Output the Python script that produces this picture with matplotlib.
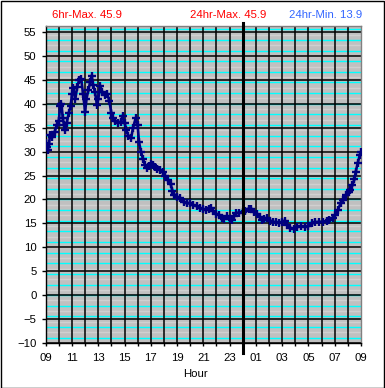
import matplotlib
matplotlib.use("Agg")
import matplotlib.pyplot as plt
from matplotlib.patches import Rectangle

# ---- data (hour of day, continuing past midnight as 24+h) ----
hours = [9.00, 9.08, 9.17, 9.25, 9.33, 9.50, 9.67, 9.83, 10.00, 10.10, 10.20, 10.30,
         10.40, 10.50, 10.60, 10.75, 10.90, 11.00, 11.10, 11.25, 11.40, 11.55, 11.70,
         11.85, 12.00, 12.10, 12.25, 12.40, 12.50, 12.60, 12.75, 12.90, 13.00, 13.15,
         13.30, 13.50, 13.70, 13.85, 14.00, 14.10, 14.25, 14.50, 14.70, 14.85, 15.00,
         15.15, 15.30, 15.50, 15.65, 15.85, 16.00, 16.10, 16.25, 16.40, 16.55, 16.70,
         16.85, 17.00, 17.15, 17.30, 17.50, 17.70, 17.90, 18.10, 18.30, 18.50, 18.65,
         18.80, 19.00, 19.20, 19.50, 19.75, 20.00, 20.25, 20.50, 20.75, 21.00, 21.20,
         21.40, 21.55, 21.75, 22.00, 22.20, 22.40, 22.60, 22.80, 23.00, 23.15, 23.35,
         23.50, 23.75, 24.00, 24.20, 24.45, 24.60, 24.85, 25.10, 25.30, 25.45, 25.65,
         25.85, 26.10, 26.30, 26.50, 26.75, 27.00, 27.20, 27.40, 27.60, 27.90, 28.10,
         28.40, 28.70, 29.00, 29.30, 29.50, 29.80, 30.10, 30.40, 30.60, 30.85, 31.05,
         31.25, 31.45, 31.65, 31.85, 32.05, 32.20, 32.35, 32.50, 32.60, 32.75, 32.90,
         33.00]
temps = [31.8, 31.0, 30.4, 31.5, 33.5, 33.0, 34.0, 35.5, 36.5, 39.5, 40.0, 37.0,
         35.5, 34.5, 36.0, 38.0, 39.5, 42.0, 43.2, 41.0, 43.5, 45.0, 45.2,
         42.0, 38.3, 41.0, 42.8, 44.5, 45.9, 44.0, 42.5, 39.8, 41.0, 43.8,
         42.5, 41.8, 42.0, 40.5, 38.0, 37.0, 36.3, 36.0, 36.2, 37.5, 36.0,
         34.5, 33.2, 32.8, 35.0, 37.0, 35.5, 32.0, 30.0, 28.5, 27.3, 26.6,
         27.0, 27.5, 27.2, 26.8, 26.4, 26.2, 25.7, 24.8, 24.0, 23.3, 21.8,
         21.0, 20.6, 20.3, 19.4, 19.2, 19.2, 18.8, 18.6, 18.2, 18.0, 17.8,
         18.0, 18.2, 17.6, 17.0, 16.7, 16.2, 16.0, 16.6, 15.9, 15.8, 16.6,
         17.2, 17.2, 17.3, 17.6, 18.1, 18.0, 17.4, 16.9, 16.3, 15.8, 16.0,
         16.2, 15.6, 15.3, 15.2, 15.1, 15.3, 15.6, 14.6, 14.1, 13.9, 14.2,
         14.4, 14.3, 14.4, 15.0, 15.2, 15.3, 15.3, 15.4, 15.8, 16.2, 16.8,
         17.8, 19.3, 19.8, 20.9, 21.6, 22.0, 23.0, 24.2, 25.8, 27.6, 29.2,
         29.9]

x_tick_pos = list(range(9, 34, 2))
x_tick_labels = ["09", "11", "13", "15", "17", "19", "21", "23",
                 "01", "03", "05", "07", "09"]
y_ticks = list(range(-10, 56, 5))

title_left = "6hr-Max. 45.9"
title_mid = "24hr-Max. 45.9"
title_right = "24hr-Min. 13.9"

plt.rcParams['font.family'] = ['Liberation Sans', 'DejaVu Sans']

W, H = 385, 388
fig = plt.figure(figsize=(W / 100, H / 100), dpi=100)
fig.patch.set_facecolor("white")
fig.patches.append(Rectangle((0.5 / W, 0.5 / H), 1 - 1.5 / W, 1 - 1.5 / H,
                             transform=fig.transFigure, fill=False,
                             edgecolor="black", linewidth=1.0))

left, right = 45.7 / W, 361.0 / W
top, bottom = 1 - 26.0 / H, 1 - 343.0 / H
ax = fig.add_axes([left, bottom, right - left, top - bottom])
ax.set_facecolor("#C0C0C0")

ymin, ymax = -10, 56.25
ax.set_xlim(9, 33)
ax.set_ylim(ymin, ymax)

# minor lines every 2 degF
for F in range(14, 134, 2):
    c = (F - 32) * 5.0 / 9.0
    if c <= ymin or c >= ymax:
        continue
    col = "#00FFFF" if F % 4 == 0 else "#D0D0D0"
    ax.axhline(c, color=col, linewidth=1.0, zorder=1)

# major horizontal
for v in y_ticks:
    ax.axhline(v, color="black", linewidth=1.1, zorder=2)
# vertical hourly lines
for h in range(10, 33):
    ax.axvline(h, color="black", linewidth=1.1, zorder=2)

# midnight line extending beyond plot
ax.plot([24, 24], [ymin - 2.1, ymax + 0.6], color="black", linewidth=2.2,
        zorder=5, clip_on=False)

ax.plot(hours, temps, color="#000080", linewidth=1.9, marker="+",
        markersize=5.5, markeredgewidth=1.7, zorder=4)

ax.set_xticks(x_tick_pos)
ax.set_xticklabels(x_tick_labels)
ax.set_xticks(list(range(9, 34)), minor=True)
ax.set_yticks(y_ticks)
ax.tick_params(axis="y", direction="out", length=3.2, width=1, pad=3.5,
               labelsize=8.2, colors="black")
ax.tick_params(axis="x", which="both", direction="out", length=2.5, width=1,
               pad=5, labelsize=8.2)
ax.tick_params(axis="x", which="minor", labelbottom=False)

for s in ["top", "right"]:
    ax.spines[s].set_color("#808080")
    ax.spines[s].set_linewidth(1.0)
for s in ["left", "bottom"]:
    ax.spines[s].set_color("black")
    ax.spines[s].set_linewidth(1.0)

fig.text(87.5 / W, 1 - 15.3 / H, title_left, color="#FF0000", fontsize=8.2,
         ha="center", va="center")
fig.text(228 / W, 1 - 15.3 / H, title_mid, color="#FF0000", fontsize=8.2,
         ha="center", va="center")
fig.text(326 / W, 1 - 15.3 / H, title_right, color="#3366FF", fontsize=8.2,
         ha="center", va="center")
fig.text(195 / W, 1 - 374 / H, "Hour", color="black", fontsize=8.2,
         ha="center", va="center")

fig.savefig("out.png", dpi=100, facecolor="white")
